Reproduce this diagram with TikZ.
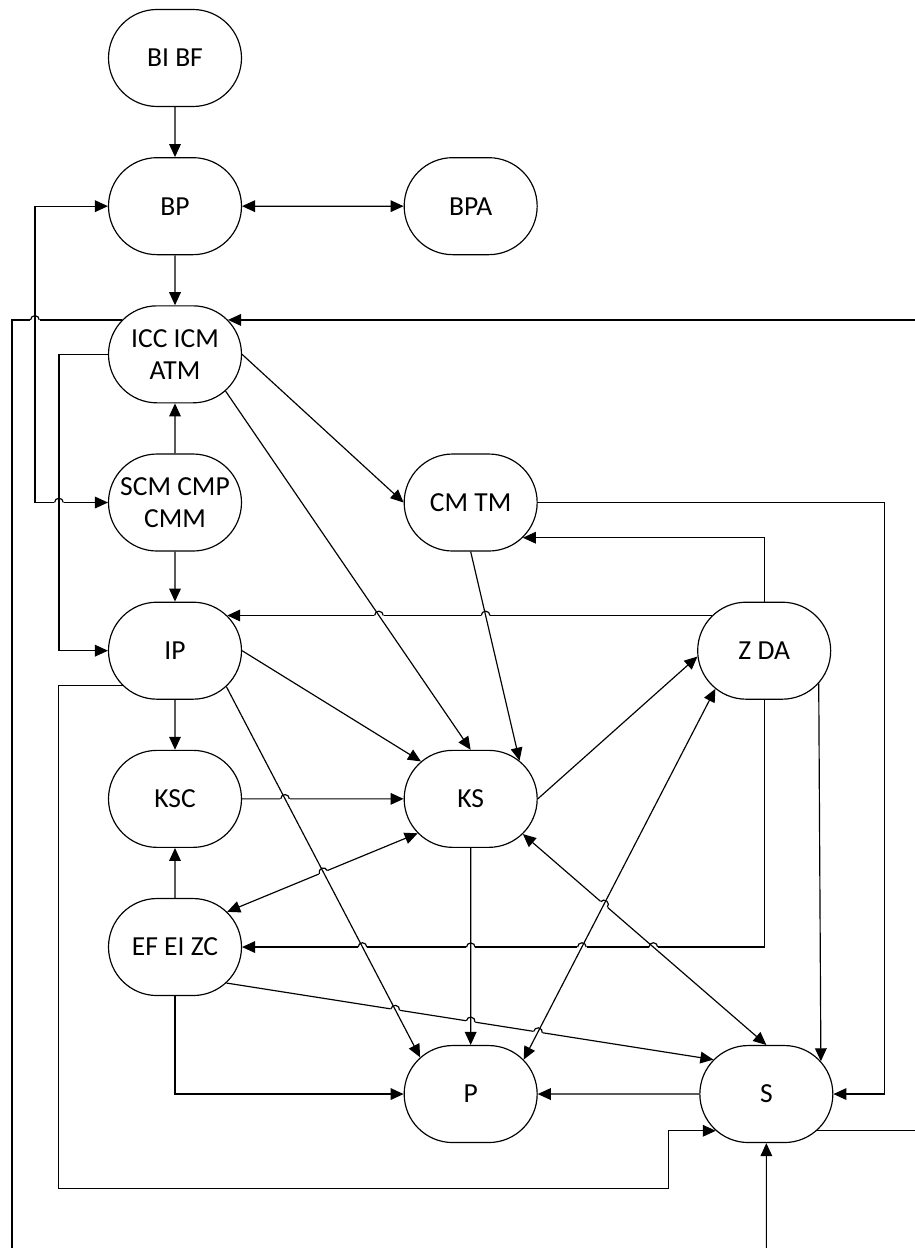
\documentclass[tikz,border=0pt]{standalone}
\usepackage{fontspec}
\setmainfont{Carlito}
\usetikzlibrary{positioning,arrows.meta,shapes.misc,calc}

\begin{document}
\begin{tikzpicture}[
        x=0.3mm, y=-0.3mm,
        node distance=15mm and 48.45mm,
        block/.style={draw, rounded rectangle, minimum width=41.9mm,
                      minimum height=29.1mm, inner sep=1mm, align=center,
                      font=\fontsize{23.5}{27.5}\selectfont},
        arr/.style={-{Triangle[length=3.9mm,width=3.5mm]}},
        biarr/.style={{Triangle[length=3.9mm,width=3.5mm]}-{Triangle[length=3.9mm,width=3.5mm]}},
        hop/.pic={\fill[white] (-1.4mm,-0.45mm) rectangle (1.4mm,0.45mm);
                  \draw (-1.3mm,0) arc[start angle=180, end angle=0, radius=1.3mm];},
        line width=1pt
    ]
        \useasboundingbox (0,0) rectangle (915,1248);
        \coordinate (lb) at (12,1248);
        \coordinate (re) at (915,0);

        \node[block] (bibf) at (175,58) {BI BF};
        \node[block, below=of bibf] (bp)   {BP};
        \node[block, right=of bp]   (bpa)  {BPA};
        \node[block, below=of bp]   (icc)  {ICC ICM\\ATM};
        \node[block, below=of icc]  (scm)  {SCM CMP\\CMM};
        \node[block, right=of scm]  (cmtm) {CM TM};
        \node[block, below=of scm]  (ip)   {IP};
        \node[block, right=136.5mm of ip] (zda) {Z DA};
        \node[block, below=of ip]   (ksc)  {KSC};
        \node[block, right=of ksc]  (ks)   {KS};
        \node[block, below=of ksc]  (ef)   {EF EI ZC};
        \node[block, below=59.1mm of ks] (p) {P};
        \node[block, right=of p]    (s)    {S};

        \coordinate (lp) at ($(bp.west)+(-73,0)$);
        \coordinate (lq) at ($(icc.west)+(-49,0)$);
        \coordinate (zc) at (zda.south |- ef.east);

        % lines that jump over others come first
        \draw (icc.147) -| (lb);
        \pic at (lp |- icc.147) {hop};
        \draw[biarr] (bp.west) -- (lp) |- (scm.west);
        \pic at (lq |- scm.west) {hop};
        \draw[arr] (zda.146) -- (ip.34);
        \pic at (intersection of zda.146--ip.34 and icc.-36--ks.north) {hop};
        \pic at (intersection of zda.146--ip.34 and cmtm.south--ks.38) {hop};
        \draw[arr] (ksc) -- (ks);
        \pic at (intersection of ksc--ks and ip.-35--p.144) {hop};
        \draw[biarr] (ks.213) -- (ef.34);
        \pic[rotate=21.5] at (intersection of ks.213--ef.34 and ip.-35--p.144) {hop};
        \draw[arr] (zda.south) |- (ef.east);
        \pic at (intersection of ef.east--zc and ip.-35--p.144) {hop};
        \pic at (intersection of ef.east--zc and ks--p) {hop};
        \pic at (intersection of ef.east--zc and p.33--zda.218) {hop};
        \pic at (intersection of ef.east--zc and ks.-34--s.north) {hop};
        \draw[biarr] (ks.-34) -- (s.north);
        \pic[rotate=-40.6] at (intersection of ks.-34--s.north and p.33--zda.218) {hop};
        \draw[arr] (ef.-35) -- (s.147);
        \pic[rotate=-9] at (intersection of ef.-35--s.147 and ip.-35--p.144) {hop};
        \pic[rotate=-9] at (intersection of ef.-35--s.147 and ks--p) {hop};
        \pic[rotate=-9] at (intersection of ef.-35--s.147 and p.33--zda.218) {hop};

        \draw[arr] (bibf) -- (bp);
        \draw[biarr] (bp) -- (bpa);
        \draw[arr] (bp) -- (icc);
        \draw[arr] (scm) -- (icc);
        \draw[arr] (scm) -- (ip);
        \draw[arr] (icc.west) -- (lq) |- (ip.west);
        \draw[arr] (icc.33 -| re) -- (icc.33);
        \draw[arr] (icc.east) -- (cmtm.west);
        \draw[arr] (icc.-36) -- (ks.north);
        \draw[arr] (cmtm.south) -- (ks.38);
        \draw[arr] (cmtm.east) -- ++(347,0) |- (s.east);
        \draw[arr] (zda.north) |- (cmtm.-34);
        \draw[arr] (zda.-31) -- (s.31);
        \draw[arr] (ip) -- (ksc);
        \draw[arr] (ip.east) -- (ks.143);
        \draw[arr] (ip.-35) -- (p.144);
        \draw[arr] (ip.214) -- ++(-64,0) -- ++(0,503) -- ++(610,0) |- (s.216);
        \draw[arr] (ef) -- (ksc);
        \draw[arr] (ks.east) -- (zda.185);
        \draw[arr] (ks) -- (p);
        \draw[biarr] (p.33) -- (zda.218);
        \draw[arr] (ef.south) |- (p.west);
        \draw[arr] (s) -- (p);
        \draw (s.-36) -- (s.-36 -| re);
        \draw[arr] (s |- lb) -- (s);
\end{tikzpicture}
\end{document}
